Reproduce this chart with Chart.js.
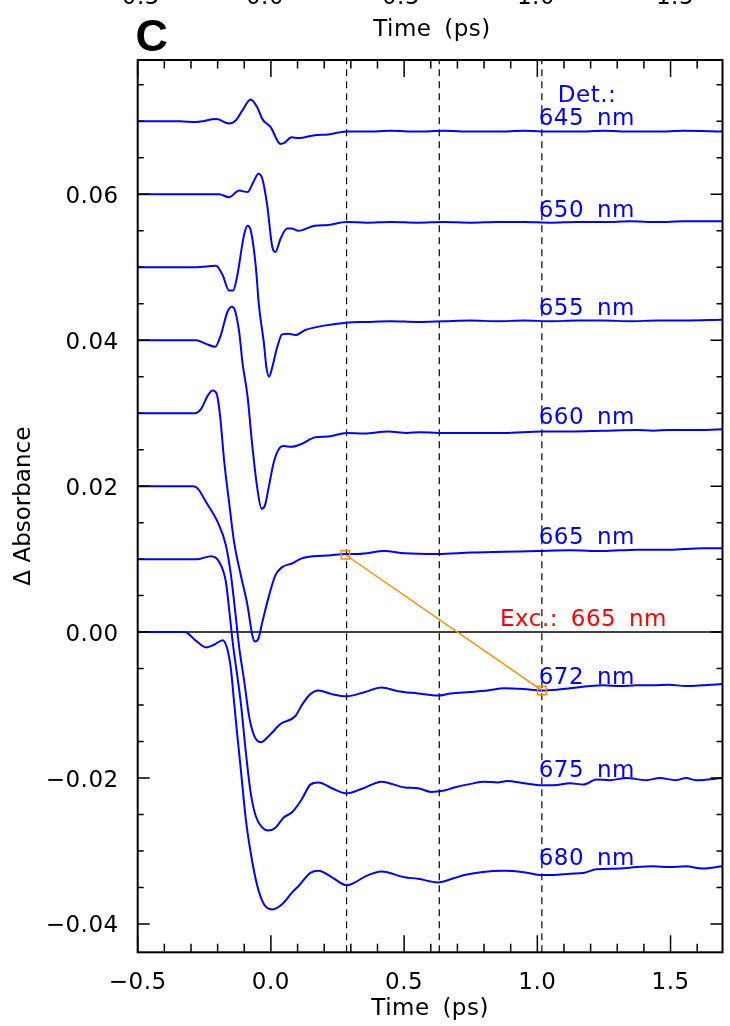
<!DOCTYPE html>
<html>
<head>
<meta charset="utf-8">
<script src="https://cdn.jsdelivr.net/npm/chart.js@4.4.1/dist/chart.umd.min.js"></script>
<style>
html,body{margin:0;padding:0;background:#fff;}
canvas{display:block;}
</style>
</head>
<body>
<canvas id="c" width="730" height="1026"></canvas>
<script>
// ---------------- data ----------------
const t645 = [-0.5,-0.343,-0.281,-0.204,-0.157,-0.132,-0.107,-0.076,-0.051,-0.032,-0.001,0.036,0.048,0.078,0.103,0.165,0.215,0.284,0.36,0.45,0.55,0.65,0.75,0.85,0.95,1.05,1.15,1.25,1.35,1.45,1.55,1.695];
const v645 = [0.0700,0.0700,0.0699,0.0703,0.0697,0.0701,0.0715,0.0730,0.0719,0.0703,0.0692,0.0669,0.0670,0.0678,0.0677,0.0681,0.0682,0.0686,0.0686,0.0687,0.0686,0.0687,0.0686,0.0686,0.0687,0.0686,0.0686,0.0687,0.0686,0.0686,0.0687,0.0686];

const t650 = [-0.5,-0.194,-0.157,-0.119,-0.088,-0.063,-0.047,-0.032,-0.014,0.005,0.017,0.036,0.061,0.078,0.103,0.165,0.215,0.284,0.36,0.45,0.55,0.65,0.75,0.85,0.95,1.05,1.15,1.25,1.35,1.45,1.55,1.695];
const v650 = [0.0600,0.0600,0.0596,0.0605,0.0603,0.0619,0.0628,0.0621,0.0585,0.0528,0.0521,0.0539,0.0553,0.0553,0.0550,0.0557,0.0558,0.0562,0.0561,0.0562,0.0561,0.0562,0.0561,0.0562,0.0562,0.0561,0.0562,0.0562,0.0563,0.0562,0.0563,0.0563];

const t655 = [-0.5,-0.281,-0.206,-0.181,-0.157,-0.142,-0.126,-0.101,-0.088,-0.076,-0.057,-0.045,-0.026,-0.017,-0.007,0.005,0.024,0.042,0.067,0.092,0.129,0.2,0.284,0.36,0.45,0.55,0.65,0.75,0.85,0.95,1.05,1.15,1.25,1.35,1.45,1.55,1.695];
const v655 = [0.0500,0.0500,0.0502,0.0489,0.0468,0.0468,0.0489,0.0544,0.0557,0.0551,0.0502,0.0448,0.0395,0.0363,0.0350,0.0363,0.0391,0.0408,0.0409,0.0407,0.0414,0.0420,0.0424,0.0425,0.0426,0.0425,0.0426,0.0427,0.0426,0.0427,0.0426,0.0427,0.0427,0.0426,0.0427,0.0427,0.0428];

const t660 = [-0.5,-0.281,-0.243,-0.209,-0.188,-0.163,-0.147,-0.137,-0.119,-0.107,-0.088,-0.070,-0.051,-0.035,-0.022,-0.007,0.011,0.030,0.048,0.079,0.116,0.167,0.215,0.284,0.35,0.44,0.51,0.56,0.63,0.75,0.875,1.017,1.123,1.247,1.372,1.434,1.496,1.62,1.695];
const v660 = [0.0400,0.0400,0.0395,0.0391,0.0407,0.0439,0.0446,0.0443,0.0411,0.0370,0.0324,0.0256,0.0197,0.0169,0.0174,0.0201,0.0233,0.0251,0.0255,0.0254,0.0258,0.0267,0.0268,0.0273,0.0272,0.0275,0.0273,0.0274,0.0273,0.0273,0.0273,0.0275,0.0275,0.0276,0.0277,0.0276,0.0277,0.0277,0.0278];

const t665 = [-0.5,-0.287,-0.262,-0.237,-0.219,-0.204,-0.191,-0.175,-0.157,-0.138,-0.113,-0.088,-0.070,-0.060,-0.047,-0.032,-0.007,0.017,0.042,0.079,0.116,0.160,0.215,0.282,0.328,0.427,0.502,0.626,0.750,0.875,0.999,1.123,1.247,1.372,1.496,1.620,1.695];
const v665 = [0.0300,0.0300,0.0306,0.0324,0.0331,0.0327,0.0297,0.0233,0.0178,0.0123,0.0078,0.0037,-0.0004,-0.0013,-0.0009,0.0014,0.0050,0.0078,0.0089,0.0094,0.0101,0.0104,0.0105,0.0107,0.0107,0.0111,0.0108,0.0107,0.0109,0.0110,0.0111,0.0112,0.0111,0.0113,0.0113,0.0115,0.0115];

const t672 = [-0.5,-0.293,-0.275,-0.243,-0.200,-0.169,-0.150,-0.134,-0.118,-0.101,-0.082,-0.063,-0.038,-0.007,0.036,0.092,0.116,0.148,0.179,0.229,0.284,0.353,0.415,0.477,0.552,0.626,0.676,0.750,0.813,0.875,0.949,1.017,1.073,1.123,1.198,1.247,1.310,1.372,1.434,1.496,1.558,1.620,1.695];
const v672 = [0.0200,0.0200,0.0197,0.0178,0.0151,0.0119,0.0078,0.0028,-0.0024,-0.0065,-0.0115,-0.0142,-0.0151,-0.0142,-0.0126,-0.0115,-0.0100,-0.0085,-0.0080,-0.0085,-0.0088,-0.0082,-0.0076,-0.0081,-0.0084,-0.0087,-0.0084,-0.0082,-0.0080,-0.0077,-0.0078,-0.0080,-0.0079,-0.0077,-0.0074,-0.0073,-0.0074,-0.0073,-0.0073,-0.0072,-0.0074,-0.0073,-0.0071];

const t675 = [-0.5,-0.275,-0.225,-0.194,-0.169,-0.157,-0.143,-0.127,-0.113,-0.094,-0.076,-0.057,-0.032,-0.010,0.017,0.048,0.079,0.116,0.148,0.179,0.229,0.285,0.347,0.415,0.502,0.552,0.601,0.651,0.688,0.750,0.800,0.850,0.887,0.949,1.017,1.061,1.123,1.173,1.222,1.272,1.334,1.409,1.459,1.521,1.558,1.595,1.695];
const v675 = [0.0100,0.0100,0.0104,0.0096,0.0069,0.0032,-0.0015,-0.0058,-0.0097,-0.0165,-0.0220,-0.0252,-0.0268,-0.0272,-0.0268,-0.0254,-0.0247,-0.0229,-0.0209,-0.0206,-0.0214,-0.0221,-0.0214,-0.0205,-0.0213,-0.0214,-0.0219,-0.0217,-0.0213,-0.0208,-0.0205,-0.0206,-0.0204,-0.0207,-0.0210,-0.0210,-0.0207,-0.0209,-0.0202,-0.0203,-0.0200,-0.0203,-0.0200,-0.0203,-0.0200,-0.0203,-0.0200];

const t680 = [-0.5,-0.324,-0.281,-0.243,-0.212,-0.181,-0.163,-0.150,-0.138,-0.126,-0.113,-0.094,-0.076,-0.051,-0.026,0.005,0.042,0.079,0.104,0.148,0.179,0.229,0.285,0.316,0.353,0.415,0.502,0.552,0.626,0.688,0.726,0.788,0.875,0.949,1.017,1.061,1.123,1.173,1.222,1.310,1.372,1.434,1.496,1.558,1.620,1.695];
const v680 = [0.0000,0.0000,-0.0012,-0.0021,-0.0017,-0.0011,-0.0024,-0.0051,-0.0097,-0.0142,-0.0188,-0.0257,-0.0302,-0.0348,-0.0373,-0.0380,-0.0373,-0.0357,-0.0348,-0.0330,-0.0327,-0.0336,-0.0347,-0.0343,-0.0335,-0.0328,-0.0336,-0.0338,-0.0343,-0.0337,-0.0333,-0.0329,-0.0327,-0.0329,-0.0333,-0.0333,-0.0331,-0.0330,-0.0325,-0.0324,-0.0322,-0.0321,-0.0322,-0.0321,-0.0324,-0.0321];

// detection wavelength labels
const detLabels = ['645 nm','650 nm','655 nm','660 nm','665 nm','672 nm','675 nm','680 nm'];
// excitation connector (two marked points)
const excT = [0.28, 1.017];
const excV = [0.0106, -0.0080];
// dashed reference times
const dashT = [0.284, 0.632, 1.017];
// tick labels of the cut-off panel above
const prevTickLabels = ['\u22120.5','0.0','0.5','1.0','1.5'];

// ---------------- layout / style ----------------
const XMIN = -0.5, XMAX = 1.695, YMIN = -0.04388, YMAX = 0.0784;
const FAM = '"DejaVu Sans", sans-serif';
const BLUE = 'rgb(0,0,255)';
const ORANGE = 'rgb(255,140,0)';
const LS = '0.5px', WS = '5px';
// label anchors (data coords of text centre-left)
const labT = [1.005,1.005,1.005,1.005,1.005,1.005,1.005,1.005];
const labV = [0.0706,0.0581,0.0446,0.0297,0.0132,-0.0059,-0.0187,-0.0308];
const prevTickX = [131,265,401,536,675];

const seriesT = [t645,t650,t655,t660,t665,t672,t675,t680];
const seriesV = [v645,v650,v655,v660,v665,v672,v675,v680];

function pts(t, v){ return t.map((x,i)=>({x:x, y:v[i]})); }
function fmt(v, d){
  let s = Math.abs(v) < 1e-9 ? (0).toFixed(d) : v.toFixed(d);
  return s.replace('-', '\u2212');
}
function spacing(ctx, ls, ws){
  if ('letterSpacing' in ctx) ctx.letterSpacing = ls;
  if ('wordSpacing' in ctx) ctx.wordSpacing = ws;
}

const datasets = [];
datasets.push({
  label:'exc', data: pts(excT, excV), borderColor: ORANGE, borderWidth: 1.5,
  pointStyle:'rect', pointRadius: 6, pointBorderWidth: 1.5,
  pointBackgroundColor:'rgba(0,0,0,0)', pointBorderColor: ORANGE, order: 0
});
seriesT.forEach((t,i)=>{
  datasets.push({
    label: detLabels[i], data: pts(t, seriesV[i]), borderColor: BLUE, borderWidth: 2,
    pointRadius: 0, cubicInterpolationMode:'monotone', order: 1
  });
});
datasets.push({
  label:'zero', data:[{x:XMIN,y:0},{x:XMAX,y:0}], borderColor:'#000', borderWidth:1.5,
  pointRadius:0, order:2
});
dashT.forEach(t=>{
  datasets.push({
    label:'dash', data:[{x:t,y:YMIN},{x:t,y:YMAX}], borderColor:'#000', borderWidth:1.2,
    borderDash:[7,5], pointRadius:0, order:2
  });
});

const decor = {
  id:'decor',
  beforeUpdate(chart){ spacing(chart.ctx, LS, WS); },
  beforeDraw(chart){ spacing(chart.ctx, LS, WS); },
  afterDraw(chart){
    const ctx = chart.ctx, a = chart.chartArea, xs = chart.scales.x, ys = chart.scales.y;
    ctx.save();
    // inward ticks on all four sides
    ctx.strokeStyle = '#000'; ctx.lineWidth = 1.5;
    ctx.beginPath();
    for (let i = -5; i <= 16; i++){
      const px = xs.getPixelForValue(i/10);
      const L = (i % 5 === 0) ? 17 : 8.5;
      ctx.moveTo(px, a.bottom); ctx.lineTo(px, a.bottom - L);
      ctx.moveTo(px, a.top); ctx.lineTo(px, a.top + L);
    }
    for (let i = -8; i <= 15; i++){
      const py = ys.getPixelForValue(i*0.005);
      const L = (i % 4 === 0) ? 12 : 6;
      ctx.moveTo(a.left, py); ctx.lineTo(a.left + L, py);
      ctx.moveTo(a.right, py); ctx.lineTo(a.right - L, py);
    }
    ctx.stroke();
    ctx.lineWidth = 2;
    ctx.strokeRect(a.left, a.top, a.right - a.left, a.bottom - a.top);

    // curve labels
    spacing(ctx, LS, WS);
    ctx.font = '23px ' + FAM;
    ctx.textAlign = 'left'; ctx.textBaseline = 'alphabetic';
    ctx.fillStyle = BLUE;
    detLabels.forEach((s,i)=>{
      ctx.fillText(s, xs.getPixelForValue(labT[i]), ys.getPixelForValue(labV[i]) + 8.4);
    });
    ctx.fillText('Det.:', xs.getPixelForValue(1.077), ys.getPixelForValue(0.0738) + 8.4);
    ctx.fillStyle = 'rgb(255,0,0)';
    ctx.fillText('Exc.: 665 nm', xs.getPixelForValue(0.86), ys.getPixelForValue(0.0020) + 8.4);

    // panel letter
    ctx.fillStyle = '#000';
    spacing(ctx, '0px', '0px');
    ctx.font = 'bold 45px "Liberation Sans", Arial, sans-serif';
    ctx.fillText('C', 135.5, 50.5);

    // y axis title
    ctx.font = '23px ' + FAM;
    ctx.save();
    ctx.translate(24, (a.top + a.bottom) / 2);
    ctx.rotate(-Math.PI / 2);
    ctx.textAlign = 'center'; ctx.textBaseline = 'middle';
    ctx.fillText('\u0394 Absorbance', 0, 0);
    ctx.restore();

    // cut-off axis of the panel above
    spacing(ctx, LS, WS);
    ctx.textAlign = 'center'; ctx.textBaseline = 'alphabetic';
    prevTickLabels.forEach((s,i)=> ctx.fillText(s, prevTickX[i], 4));
    ctx.fillText('Time (ps)', 432, 36);
    ctx.restore();
  }
};

Chart.defaults.font.family = FAM;
Chart.defaults.font.size = 23;
Chart.defaults.color = '#000';

new Chart(document.getElementById('c'), {
  type:'line',
  data:{ datasets },
  options:{
    responsive:false, animation:false, devicePixelRatio:1,
    layout:{ padding:{ left:0, top:60, right:3.3, bottom:0 } },
    plugins:{ legend:{display:false}, tooltip:{enabled:false} },
    scales:{
      x:{
        type:'linear', min:XMIN, max:XMAX,
        afterFit(s){ s.height = 73.7; s.paddingLeft = 0; s.paddingRight = 0; },
        grid:{ display:false }, border:{ display:false },
        ticks:{ stepSize:0.5, includeBounds:false, padding:9, maxRotation:0, autoSkip:false,
                color:'#000', font:{family:FAM, size:23}, callback:(v)=>fmt(v,1) },
        title:{ display:true, text:'Time (ps)', color:'#000', font:{family:FAM, size:23},
                padding:{top:0, bottom:3} }
      },
      y:{
        type:'linear', min:YMIN, max:YMAX,
        afterFit(s){ s.width = 137.7; },
        grid:{ display:false }, border:{ display:false },
        ticks:{ stepSize:0.02, includeBounds:false, padding:11, labelOffset:2.5, autoSkip:false,
                color:'#000', font:{family:FAM, size:23}, callback:(v)=>fmt(v,2) },
        title:{ display:false }
      }
    }
  },
  plugins:[decor]
});
</script>
</body>
</html>
